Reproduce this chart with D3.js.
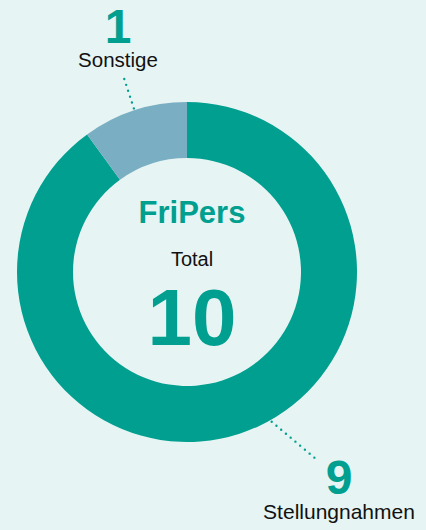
<!DOCTYPE html>
<html>
<head>
<meta charset="utf-8">
<script src="https://cdn.jsdelivr.net/npm/d3@7"></script>
<style>
  html, body { margin: 0; padding: 0; background: #e6f4f3; }
  svg { display: block; font-family: "Liberation Sans", Arial, Helvetica, sans-serif; }
</style>
</head>
<body>
<svg id="chart" width="426" height="530"></svg>
<script>
// Submissions by type
const categories = ["Stellungnahmen", "Sonstige"];
const values = [9, 1];
const colors = ["#009f8f", "#7aaec3"];
const centerTitle = "FriPers";
const centerLabel = "Total";

const W = 426, H = 530;
const cx = 187, cy = 272;
const outerR = 170, innerR = 114;
const teal = "#009f8f";

const svg = d3.select("#chart");
svg.append("rect").attr("width", W).attr("height", H).attr("fill", "#e6f4f3");

const g = svg.append("g").attr("transform", `translate(${cx},${cy})`);

const pie = d3.pie().sort(null).value(d => d)(values);
const arc = d3.arc().innerRadius(innerR).outerRadius(outerR);

g.selectAll("path.slice")
  .data(pie)
  .join("path")
  .attr("class", "slice")
  .attr("d", arc)
  .attr("fill", (d, i) => colors[i]);

// center text
const total = d3.sum(values);
g.append("text").attr("x", 5).attr("y", -49)
  .attr("text-anchor", "middle").attr("font-size", 31).attr("font-weight", "bold")
  .attr("fill", teal).text(centerTitle);
g.append("text").attr("x", 5).attr("y", -6)
  .attr("text-anchor", "middle").attr("font-size", 20).attr("fill", "#111")
  .text(centerLabel);
g.append("text").attr("x", 5).attr("y", 73)
  .attr("text-anchor", "middle").attr("font-size", 80).attr("font-weight", "bold")
  .attr("fill", teal).text(total);

// point on a circle at angle a (radians, clockwise from 12 o'clock)
const polar = (a, r) => [Math.sin(a) * r, -Math.cos(a) * r];

// leader lines + labels
function dotted(p0, p1) {
  g.append("line")
    .attr("x1", p0[0]).attr("y1", p0[1]).attr("x2", p1[0]).attr("y2", p1[1])
    .attr("stroke", teal).attr("stroke-width", 2.4)
    .attr("stroke-linecap", "round").attr("stroke-dasharray", "0 6.2");
}

// Sonstige: radial leader from outer edge at slice mid-angle
const sMid = (pie[1].startAngle + pie[1].endAngle) / 2;
dotted(polar(sMid, outerR + 2), polar(sMid, outerR + 34));
const sLab = [-69, -205];
g.append("text").attr("x", sLab[0]).attr("y", sLab[1] - 24)
  .attr("text-anchor", "middle").attr("font-size", 48).attr("font-weight", "bold")
  .attr("fill", teal).text(values[1]);
g.append("text").attr("x", sLab[0]).attr("y", sLab[1])
  .attr("text-anchor", "middle").attr("font-size", 20.5).attr("fill", "#111")
  .text(categories[1]);

// Stellungnahmen: leader from lower-right outer edge
const a0 = Math.PI * 150.5 / 180;
dotted(polar(a0, outerR + 2), [129, 187]);
const tLab = [152, 222];
g.append("text").attr("x", tLab[0]).attr("y", tLab[1])
  .attr("text-anchor", "middle").attr("font-size", 48).attr("font-weight", "bold")
  .attr("fill", teal).text(values[0]);
g.append("text").attr("x", tLab[0]).attr("y", tLab[1] + 25)
  .attr("text-anchor", "middle").attr("font-size", 21).attr("fill", "#111")
  .text(categories[0]);
</script>
</body>
</html>
